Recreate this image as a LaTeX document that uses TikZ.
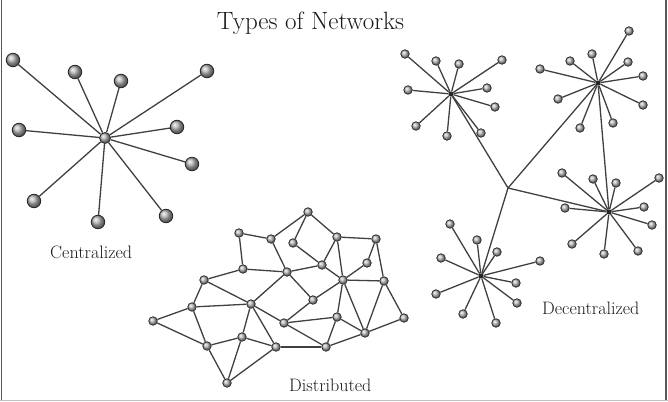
\documentclass[tikz,border=0pt]{standalone}
\begin{document}
\begin{tikzpicture}[x=1pt,y=-1pt,
  edge/.style={draw=black!75,line width=1.3pt},
  bigball/.style={circle,inner sep=0pt,minimum size=13.5pt,shading=ball,ball color=gray!60,draw=black!85,line width=0.8pt},
  midball/.style={circle,inner sep=0pt,minimum size=11pt,shading=ball,ball color=gray!60,draw=black!85,line width=0.8pt},
  smallball/.style={circle,inner sep=0pt,minimum size=8.5pt,shading=ball,ball color=gray!55,draw=black!85,line width=0.7pt},
  hub/.style={circle,inner sep=0pt,minimum size=5pt,fill=black!85},
  lbl/.style={text=black!90,font=\fontsize{18}{20}\selectfont,anchor=base west,inner sep=0pt}
]
\useasboundingbox (0,0) rectangle (668,401);
\draw[black!65,line width=1.5pt] (1.5,0) -- (1.5,401);
\draw[black!65,line width=1.5pt] (666,0) -- (666,401);
\draw[black!25,line width=1pt] (0,400.5) -- (668,400.5);

\node[text=black!90,font=\fontsize{25}{28}\selectfont,anchor=base,inner sep=0pt] (title) at (310.5,30) {Types of Networks};

% Centralized
\node[midball] (c0) at (105,138) {};
\foreach \x/\y [count=\i] in {13/60,75/72,121/81,207/71,19/130,177/127,192/164,34/201,98/222,166/216}{
  \node[bigball] (c\i) at (\x,\y) {};
  \draw[edge] (c0) -- (c\i);
}
\node[lbl] (lc) at (50,258) {Centralized};

% Distributed
\foreach \n/\x/\y in {A/308/212,B/239/233,C/271/239,D/293/243,E/337/237,F/376/239,G/367/263,H/322/265,I/243/269,J/287/272,K/343/280,L/384/281,M/204/280,N/313/300,O/251/304,P/192/307,Q/153/321,R/284/323,S/337/317,T/404/318,U/365/333,V/242/337,W/207/346,X/276/347,Y/326/347,Z/227/383}{
  \node[smallball] (d\n) at (\x,\y) {};
}
\foreach \a/\b in {A/C,A/D,A/E,B/C,B/I,C/J,D/H,E/H,E/F,E/K,F/G,F/L,G/K,H/J,H/K,I/J,I/M,J/O,J/N,K/L,K/N,K/S,K/U,L/U,L/T,M/P,M/O,N/R,O/P,O/V,O/X,O/R,P/Q,P/W,Q/W,W/V,W/Z,V/Z,V/X,X/Z,X/Y,R/S,R/Y,S/Y,S/U,Y/U,U/T}{
  \draw[edge] (d\a) -- (d\b);
}
\node[lbl] (ld) at (289,391) {Distributed};

% Decentralized
\node[hub] (h1) at (451,94) {};
\node[hub] (h2) at (598,83) {};
\node[hub] (h3) at (609,212) {};
\node[hub] (h4) at (481,276) {};
\coordinate (jn) at (508,188);
\draw[edge] (h1) -- (jn);
\draw[edge] (h2) -- (jn);
\draw[edge] (h3) -- (jn);
\draw[edge] (h4) -- (jn);
\draw[edge] (h2) -- (h3);
\foreach \x/\y [count=\i] in {405/54,436/61,459/64,502/60,408/90,487/88,495/107,416/126,447/136,481/133}{
  \node[smallball] (pa\i) at (\x,\y) {};
  \draw[edge] (h1) -- (pa\i);
}
\foreach \x/\y [count=\i] in {629/31,592/54,570/61,628/62,540/69,643/76,558/99,643/105,580/128,613/123}{
  \node[smallball] (pb\i) at (\x,\y) {};
  \draw[edge] (h2) -- (pb\i);
}
\foreach \x/\y [count=\i] in {562/173,593/179,616/183,659/178,565/208,644/207,652/225,572/244,604/254,638/251}{
  \node[smallball] (pc\i) at (\x,\y) {};
  \draw[edge] (h3) -- (pc\i);
}
\foreach \x/\y [count=\i] in {450/224,477/240,497/252,540/261,441/258,516/283,436/294,517/303,463/314,496/323}{
  \node[smallball] (pd\i) at (\x,\y) {};
  \draw[edge] (h4) -- (pd\i);
}
\node[lbl] (ldc) at (542,314) {Decentralized};
\end{tikzpicture}
\end{document}
